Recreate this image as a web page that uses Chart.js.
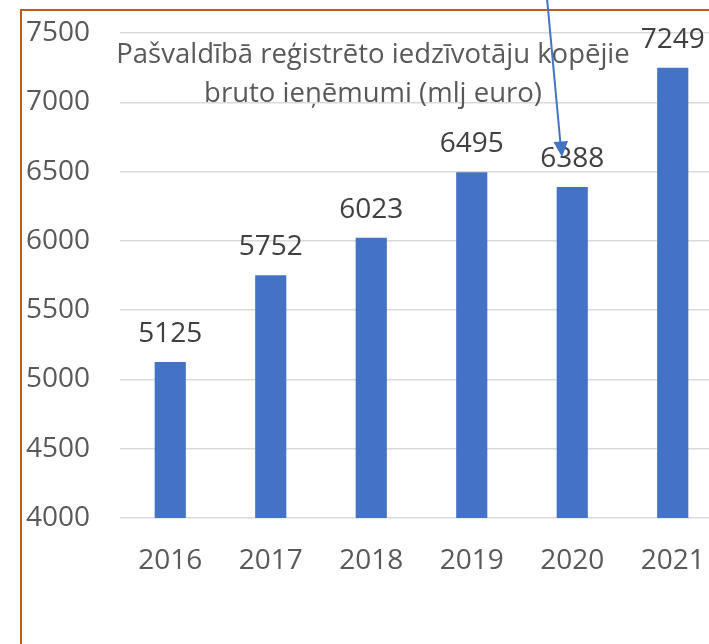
<!DOCTYPE html>
<html>
<head>
<meta charset="utf-8">
<script src="https://cdn.jsdelivr.net/npm/chart.js@4/dist/chart.umd.min.js"></script>
<style>
  html, body { margin: 0; padding: 0; background: #ffffff; overflow: hidden; }
  #wrap { position: relative; width: 709px; height: 644px; overflow: hidden; }
  #frame {
    position: absolute; left: 20px; top: 9px; width: 800px; height: 700px;
    border-left: 2px solid #C55A11; border-top: 2px solid #C55A11;
    box-sizing: border-box;
  }
  #chart { position: absolute; left: 0; top: 0; }
  #title {
    position: absolute; left: 73px; top: 33px; width: 600px;
    text-align: center; font-family: "Open Sans", sans-serif;
    font-size: 27.5px; line-height: 39px; color: #595959;
  }
  #arrow { position: absolute; left: 0; top: 0; }
</style>
</head>
<body>
<div id="wrap">
  <div id="frame"></div>
  <canvas id="chart" width="730" height="644"></canvas>
  <div id="title">Pašvaldībā reģistrēto iedzīvotāju kopējie<br>bruto ieņēmumi (mlj euro)</div>
  <svg id="arrow" width="709" height="644">
    <line x1="547" y1="-2" x2="560.5" y2="144" stroke="#4472C4" stroke-width="2"></line>
    <polygon points="562,157 553.5,142 568,141" fill="#4472C4"></polygon>
  </svg>
</div>
<script>
const years = ["2016", "2017", "2018", "2019", "2020", "2021"];
const income = [5125, 5752, 6023, 6495, 6388, 7249];
const yTicks = [4000, 4500, 5000, 5500, 6000, 6500, 7000, 7500];

// draw value above each bar
const valueLabels = {
    id: "valueLabels",
    afterDatasetsDraw(chart) {
        const ctx = chart.ctx;
        const meta = chart.getDatasetMeta(0);
        ctx.save();
        ctx.font = "28px 'Open Sans'";
        ctx.fillStyle = "#404040";
        ctx.textAlign = "center";
        ctx.textBaseline = "middle";
        meta.data.forEach((bar, i) => {
            ctx.fillText(String(income[i]), bar.x, bar.y - 28);
        });
        ctx.restore();
    }
};

new Chart(document.getElementById("chart"), {
    type: "bar",
    data: {
        labels: years,
        datasets: [{
            data: income,
            backgroundColor: "#4472C4",
            barPercentage: 0.31,
            categoryPercentage: 1
        }]
    },
    options: {
        responsive: false,
        animation: false,
        layout: { padding: { left: 26, right: 7, top: 33, bottom: 0 } },
        plugins: {
            legend: { display: false },
            title: { display: false },
            tooltip: { enabled: false }
        },
        scales: {
            x: {
                grid: { display: false },
                border: { display: false },
                ticks: {
                    color: "#595959",
                    font: { family: "Open Sans", size: 28 },
                    padding: 18,
                    maxRotation: 0
                },
                afterFit(scale) { scale.height = 126; }
            },
            y: {
                min: 4000,
                max: 7500,
                grid: { color: "#D9D9D9", lineWidth: 1.5, drawTicks: false },
                border: { display: false },
                afterBuildTicks(scale) { scale.ticks = yTicks.map(v => ({ value: v })); },
                ticks: {
                    color: "#595959",
                    font: { family: "Open Sans", size: 28 },
                    crossAlign: "far",
                    padding: 0,
                    callback: (v) => String(v)
                },
                afterFit(scale) { scale.width = 94; }
            }
        }
    },
    plugins: [valueLabels]
});
</script>
</body>
</html>
